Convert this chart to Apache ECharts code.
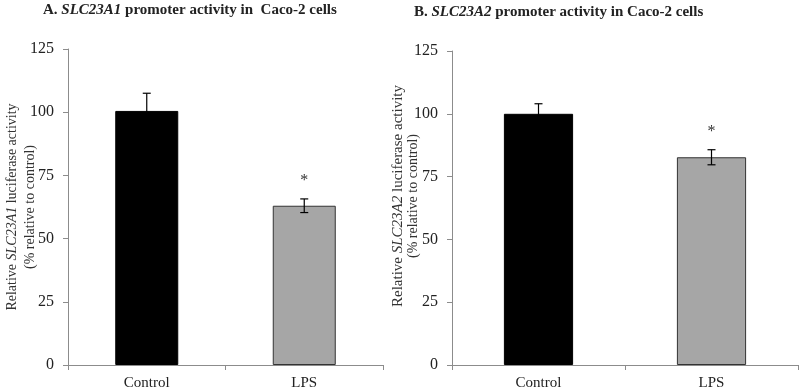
<!DOCTYPE html>
<html>
<head>
<meta charset="utf-8">
<script src="https://cdn.jsdelivr.net/npm/echarts@6/dist/echarts.min.js"></script>
<style>
  html, body { margin: 0; padding: 0; background: #fff; }
  #chart { width: 800px; height: 388px; }
</style>
</head>
<body>
<div id="chart"></div>
<script>
var categories = ['Control', 'LPS'];

// panel A: SLC23A1
var a1Values = [100.5, 63];
var a1Errors = [7, 2.7];
// panel B: SLC23A2
var a2Values = [100, 82.7];
var a2Errors = [4, 3];

var marks = ['', '*'];
var barColors = ['#000000', '#a6a6a6'];

var serif = '"Liberation Serif", "DejaVu Serif", serif';
var axisGray = '#8c8c8c';

var myChart = echarts.init(document.getElementById('chart'));

function errorData(vals, errs) {
  var out = [];
  for (let i = 0; i < vals.length; i++) {
    out.push([i, vals[i], errs[i]]);
  }
  return out;
}

function renderError(params, api) {
  var v = api.value(1), e = api.value(2);
  var top = api.coord([api.value(0), v + e]);
  var bot = api.coord([api.value(0), v - e]);
  var cap = 4;
  var style = { stroke: '#000', lineWidth: 1.2 };
  var kids = [
    { type: 'line', shape: { x1: top[0], y1: top[1], x2: bot[0], y2: bot[1] }, style: style },
    { type: 'line', shape: { x1: top[0] - cap, y1: top[1], x2: top[0] + cap, y2: top[1] }, style: style },
    { type: 'line', shape: { x1: bot[0] - cap, y1: bot[1], x2: bot[0] + cap, y2: bot[1] }, style: style }
  ];
  var m = marks[params.dataIndex];
  if (m) {
    kids.push({
      type: 'text',
      style: {
        text: m, x: top[0], y: top[1] - 18,
        align: 'center', verticalAlign: 'middle',
        font: '16px ' + serif, fill: '#333'
      }
    });
  }
  return { type: 'group', children: kids };
}

function barData(vals) {
  return vals.map(function (v, i) {
    return {
      value: v,
      itemStyle: {
        color: barColors[i],
        borderColor: i === 0 ? '#000' : '#333',
        borderWidth: 1
      }
    };
  });
}

function yAxisFor(idx, gene) {
  var fs = idx === 0 ? 14 : 15;
  var lh = idx === 0 ? 18 : 15;
  return {
    type: 'value',
    gridIndex: idx,
    min: 0, max: 125, interval: 25,
    splitLine: { show: false },
    axisLine: { show: true, lineStyle: { color: axisGray } },
    axisTick: { show: true, length: 5, lineStyle: { color: axisGray } },
    axisLabel: { color: '#222', fontFamily: serif, fontSize: 16, margin: 14 },
    name: '{n|Relative }{i|' + gene + '}{n| luciferase activity}\n{m|(% relative to control)}',
    nameLocation: 'middle',
    nameRotate: 90,
    nameMoveOverlap: false,
    nameGap: idx === 0 ? 29 : 31,
    nameTextStyle: {
      padding: idx === 0 ? [0, 0, 0, 0] : [0, 0, 0, 24],
      rich: {
        n: { fontFamily: serif, fontSize: fs, color: '#333', lineHeight: lh },
        i: { fontFamily: serif, fontSize: fs, color: '#333', fontStyle: 'italic', lineHeight: lh },
        m: { fontFamily: serif, fontSize: 14, color: '#333', lineHeight: lh }
      }
    }
  };
}

function xAxisFor(idx) {
  return {
    type: 'category',
    gridIndex: idx,
    data: categories,
    axisLine: { show: true, lineStyle: { color: axisGray } },
    axisTick: { show: true, length: 5, lineStyle: { color: axisGray } },
    axisLabel: { color: '#222', fontFamily: serif, fontSize: 15, margin: 11 }
  };
}

var titleRich = {
  b: { fontFamily: serif, fontSize: 15, fontWeight: 'bold', color: '#222' },
  bi: { fontFamily: serif, fontSize: 15, fontWeight: 'bold', fontStyle: 'italic', color: '#222' }
};

var option = {
  backgroundColor: '#fff',
  animation: false,
  title: [
    {
      text: '{b|A. }{bi|SLC23A1}{b| promoter activity in  Caco-2 cells}',
      left: 38, top: -2,
      textStyle: { rich: titleRich }
    },
    {
      text: '{b|B. }{bi|SLC23A2}{b| promoter activity in Caco-2 cells}',
      left: 409, top: 0,
      textStyle: { rich: titleRich }
    }
  ],
  grid: [
    { left: 68, right: 417, top: 49, bottom: 23, outerBoundsMode: 'none' },
    { left: 452, right: 2, top: 51, bottom: 23, outerBoundsMode: 'none' }
  ],
  xAxis: [xAxisFor(0), xAxisFor(1)],
  yAxis: [yAxisFor(0, 'SLC23A1'), yAxisFor(1, 'SLC23A2')],
  series: [
    { type: 'bar', xAxisIndex: 0, yAxisIndex: 0, barWidth: '40%', data: barData(a1Values) },
    { type: 'custom', xAxisIndex: 0, yAxisIndex: 0, renderItem: renderError, data: errorData(a1Values, a1Errors), z: 5 },
    { type: 'bar', xAxisIndex: 1, yAxisIndex: 1, barWidth: '40%', data: barData(a2Values) },
    { type: 'custom', xAxisIndex: 1, yAxisIndex: 1, renderItem: renderError, data: errorData(a2Values, a2Errors), z: 5 }
  ]
};

myChart.setOption(option);
</script>
</body>
</html>
